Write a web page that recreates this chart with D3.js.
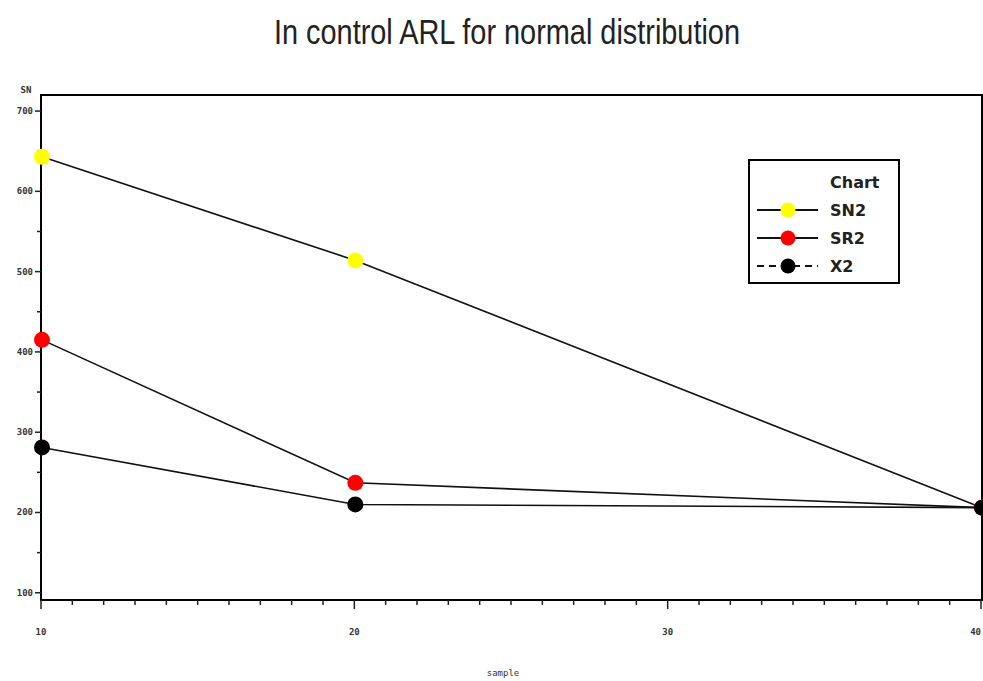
<!DOCTYPE html>
<html>
<head>
<meta charset="utf-8">
<script src="https://cdn.jsdelivr.net/npm/d3@7"></script>
<style>
  body { margin: 0; background: #fff; }
  svg { display: block; }
  .tick-label { font-family: "DejaVu Sans Mono", monospace; font-size: 9px; font-weight: bold; fill: #333; }
</style>
</head>
<body>
<div id="chart"></div>
<script>
// sample sizes on the x axis
const SAMPLES = [10, 20, 40];

// in control ARL per chart type
const SERIES = [
    {name: 'SN2', color: '#ffff00', dash: null, values: [643, 514, 206]},
    {name: 'SR2', color: '#ff0000', dash: null, values: [415, 237, 206]},
    {name: 'X2', color: '#000000', dash: '7,5', values: [281, 210, 206]}
];

const X_TICKS = [10, 20, 30, 40];
const Y_TICKS = [100, 200, 300, 400, 500, 600, 700];

const width = 983;
const height = 681;

// plot frame
let margin = {top: 95, right: 1, bottom: 81, left: 41};

let svg = d3.select('#chart').append('svg')
    .attr('width', width)
    .attr('height', height);

let x = d3.scaleLinear().domain([10, 40]).range([margin.left + 1, width - margin.right]);
let y = d3.scaleLinear().domain([91, 720]).range([height - margin.bottom, margin.top]);

// title
svg.append('text')
    .attr('x', 507)
    .attr('y', 44)
    .attr('text-anchor', 'middle')
    .attr('textLength', 466)
    .attr('lengthAdjust', 'spacingAndGlyphs')
    .style('font-family', '"Liberation Sans Narrow", "Liberation Sans", sans-serif')
    .style('font-size', '35px')
    .style('fill', '#222')
    .text('In control ARL for normal distribution');

// frame
svg.append('rect')
    .attr('x', margin.left)
    .attr('y', margin.top)
    .attr('width', width - margin.right - margin.left)
    .attr('height', height - margin.bottom - margin.top)
    .attr('fill', 'none')
    .attr('stroke', '#000')
    .attr('stroke-width', 2);

// x axis ticks (minor every unit, major every 10)
let xAxis = svg.append('g').attr('transform', 'translate(0,' + (height - margin.bottom) + ')');
xAxis.selectAll('line')
    .data(d3.range(10, 41))
    .enter().append('line')
    .attr('x1', d => x(d) - 1)
    .attr('x2', d => x(d) - 1)
    .attr('y1', 0)
    .attr('y2', d => d % 10 === 0 ? 9 : 5)
    .attr('stroke', '#222')
    .attr('stroke-width', 1.5);
// last label sits at the right edge, so anchor it to the end
xAxis.selectAll('text')
    .data(X_TICKS)
    .enter().append('text')
    .attr('class', 'tick-label')
    .attr('x', d => x(d) - 1)
    .attr('y', 35)
    .attr('text-anchor', (d, i) => i === X_TICKS.length - 1 ? 'end' : 'middle')
    .text(d => d);

svg.append('text')
    .attr('class', 'tick-label')
    .attr('x', 503)
    .attr('y', 676)
    .attr('text-anchor', 'middle')
    .style('font-weight', 'normal')
    .text('sample');

// y axis ticks
let yAxis = svg.append('g').attr('transform', 'translate(' + margin.left + ',0)');
yAxis.selectAll('line')
    .data(d3.range(100, 701, 50))
    .enter().append('line')
    .attr('x1', 0)
    .attr('x2', d => d % 100 === 0 ? -6 : -4)
    .attr('y1', d => y(d))
    .attr('y2', d => y(d))
    .attr('stroke', '#222')
    .attr('stroke-width', 1.5);
yAxis.selectAll('text')
    .data(Y_TICKS)
    .enter().append('text')
    .attr('class', 'tick-label')
    .attr('x', -8)
    .attr('y', d => y(d) + 3)
    .attr('text-anchor', 'end')
    .text(d => d);

svg.append('text')
    .attr('class', 'tick-label')
    .attr('x', 26)
    .attr('y', 93)
    .attr('text-anchor', 'middle')
    .text('SN');

// lines and markers
let plot = svg.append('g');
let line = d3.line()
    .x((d, i) => x(SAMPLES[i]))
    .y(d => y(d));

SERIES.forEach(s => {
    plot.append('path')
        .datum(s.values)
        .attr('d', line)
        .attr('fill', 'none')
        .attr('stroke', '#111')
        .attr('stroke-width', 1.6);
});
SERIES.forEach(s => {
    plot.selectAll(null)
        .data(s.values)
        .enter().append('circle')
        .attr('cx', (d, i) => x(SAMPLES[i]))
        .attr('cy', d => y(d))
        .attr('r', 8)
        .attr('fill', s.color);
});

// legend
let legend = svg.append('g').attr('transform', 'translate(749,160)');
legend.append('rect')
    .attr('width', 150)
    .attr('height', 123)
    .attr('fill', '#fff')
    .attr('stroke', '#000')
    .attr('stroke-width', 2);
legend.append('text')
    .attr('x', 81)
    .attr('y', 28)
    .style('font-family', '"DejaVu Sans", sans-serif')
    .style('font-size', '16px')
    .style('font-weight', 'bold')
    .style('fill', '#222')
    .text('Chart');

let items = legend.selectAll('g.item')
    .data(SERIES)
    .enter().append('g')
    .attr('class', 'item')
    .attr('transform', (d, i) => 'translate(0,' + (50 + i * 28) + ')');
items.append('line')
    .attr('x1', 8)
    .attr('x2', 69)
    .attr('stroke', '#111')
    .attr('stroke-width', 2)
    .attr('stroke-dasharray', d => d.dash);
items.append('circle')
    .attr('cx', 39)
    .attr('r', 7.5)
    .attr('fill', d => d.color);
items.append('text')
    .attr('x', 81)
    .attr('y', 6)
    .style('font-family', '"DejaVu Sans", sans-serif')
    .style('font-size', '16px')
    .style('font-weight', 'bold')
    .style('fill', '#222')
    .text(d => d.name);
</script>
</body>
</html>
